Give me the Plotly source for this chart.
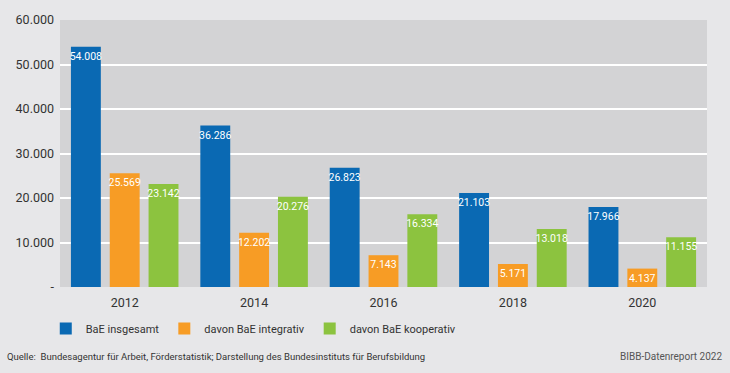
import plotly.graph_objects as go

years = ["2012", "2014", "2016", "2018", "2020"]
insgesamt = [54008, 36286, 26823, 21103, 17966]
integrativ = [25569, 12202, 7143, 5171, 4137]
kooperativ = [23142, 20276, 16334, 13018, 11155]
series_names = ["BaE insgesamt", "davon BaE integrativ", "davon BaE kooperativ"]
colors = ["#0a69b3", "#f79c25", "#8cc33f"]
ytick_vals = [0, 10000, 20000, 30000, 40000, 50000, 60000]
ytick_text = ["-", "10.000", "20.000", "30.000", "40.000", "50.000", "60.000"]

FONT = "Roboto, Liberation Sans, sans-serif"

fig = go.Figure()
for name, vals, col in zip(series_names, [insgesamt, integrativ, kooperativ], colors):
    fig.add_trace(go.Bar(
        x=years, y=vals, name=name, marker=dict(color=col, line=dict(width=0)),
        texttemplate="%{y:,}", textposition="inside", insidetextanchor="end",
        textangle=0, constraintext="none",
        textfont=dict(color="white", size=10.5, family=FONT),
    ))

fig.update_layout(
    width=730, height=373,
    margin=dict(l=60, r=23, t=17, b=86),
    paper_bgcolor="#e7e7e9", plot_bgcolor="#d3d3d5",
    separators=",.",
    barmode="group", bargap=0.1, bargroupgap=0.23,
    font=dict(family=FONT, color="#333333", size=12),
    showlegend=True,
    legend=dict(orientation="h", x=-0.022, y=-0.155, xanchor="left", yanchor="middle",
                font=dict(size=11, color="#333333"), bgcolor="rgba(0,0,0,0)",
                traceorder="normal"),
    xaxis=dict(showgrid=False, ticks="", ticklabelstandoff=6,
               tickfont=dict(size=12.5, color="#333333")),
    yaxis=dict(range=[0, 60000], tickvals=ytick_vals, ticktext=ytick_text,
               showgrid=True, gridcolor="white", gridwidth=1.5, zeroline=False,
               ticks="", ticklabelstandoff=5, tickfont=dict(size=12.5, color="#333333")),
    annotations=[
        dict(text="Quelle:  Bundesagentur für Arbeit, Förderstatistik; Darstellung des Bundesinstituts für Berufsbildung",
             xref="paper", yref="paper", x=-0.085, y=-0.262, xanchor="left", yanchor="middle",
             showarrow=False, font=dict(size=9.5, color="#333333")),
        dict(text="BIBB-Datenreport 2022", xref="paper", yref="paper",
             x=1.027, y=-0.262, xanchor="right", yanchor="middle",
             showarrow=False, font=dict(size=10, color="#555555")),
    ],
)

fig.write_html("out.html", config={"displayModeBar": False},
               post_script="document.body.style.margin='0';")
